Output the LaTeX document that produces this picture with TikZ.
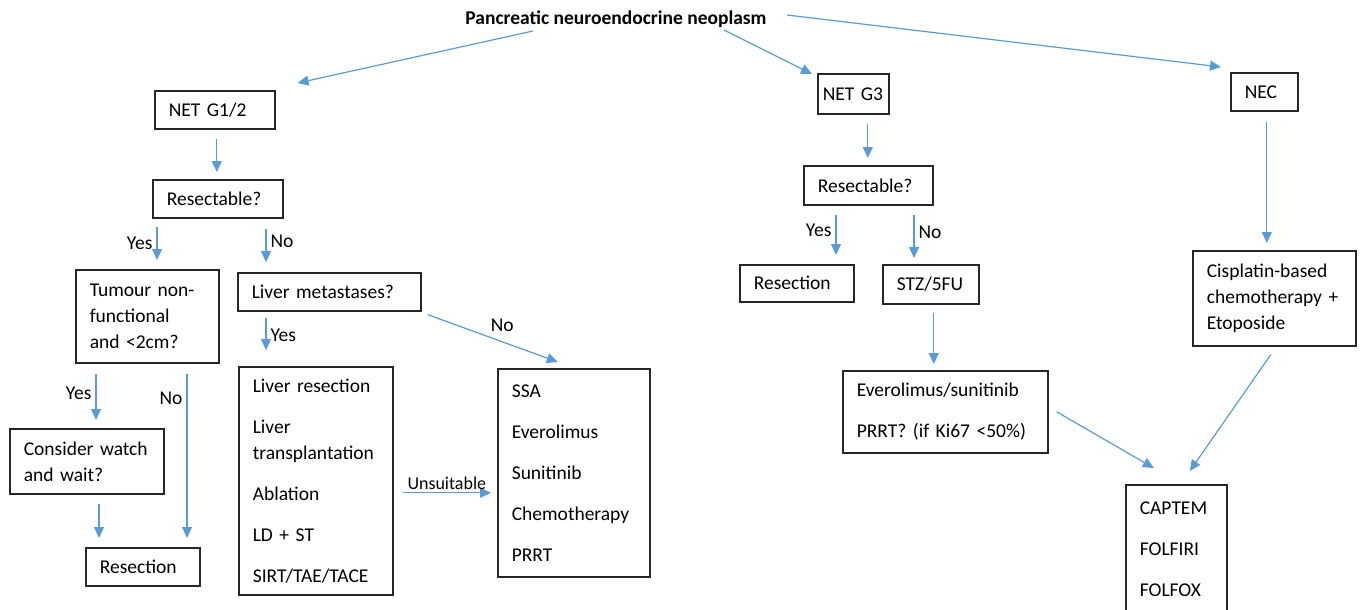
\documentclass[tikz,border=0pt]{standalone}
\usepackage{fontspec}
\setmainfont{Carlito}
\usetikzlibrary{arrows.meta, calc}
\definecolor{arrowblue}{RGB}{91,155,213}
\tikzset{
  box/.style 2 args={draw=black!85, line width=1.6pt, anchor=north west, align=left,
    inner xsep=14pt, inner ysep=0pt, text width=#1pt, minimum height=#2pt},
  arr/.style={draw=arrowblue, line width=1.2pt, -{Triangle[length=11pt,width=10pt]}},
  lbl/.style={inner sep=4pt, text=black},
}
\hyphenpenalty=10000
\exhyphenpenalty=10000
\begin{document}
\begin{tikzpicture}[x=1pt, y=-1pt, font=\fontsize{19.5}{26}\selectfont]
\useasboundingbox (0,0) rectangle (1360,610);
\clip (0,0) rectangle (1360,610);
%
\node[font=\fontsize{19.5}{26}\selectfont\bfseries, inner sep=0pt] (pnen) at (616,19) {Pancreatic neuroendocrine neoplasm};
% NET G1/2 branch
\node[box={92}{38}] (net12) at (154,90) {NET G1/2};
\node[box={102}{38}] (res1) at (152,179) {Resectable?};
\node[box={115}{93}] (tum) at (75,269) {Tumour non-\\functional\\and <2cm?};
\node[box={155}{38}] (livmet) at (237,272) {Liver metastases?};
\node[box={126}{65}] (wait) at (9,428) {Consider watch\\and wait?};
\node[box={86}{38}] (rsc1) at (85,547) {Resection};
\node[box={126}{228}] (livtx) at (238,366) {Liver resection\\[15pt] Liver\\transplantation\\[15pt] Ablation\\[15pt] LD + ST\\[15pt] SIRT/TAE/TACE};
\node[box={124}{208}] (sys) at (497,368) {SSA\\[15pt] Everolimus\\[15pt] Sunitinib\\[15pt] Chemotherapy\\[15pt] PRRT};
% NET G3 branch
\node[box={61}{40}, inner xsep=5pt] (net3) at (817,73) {NET~G3};
\node[box={101}{39}] (res3) at (803,165) {Resectable?};
\node[box={86}{37}] (rsc3) at (739,264) {Resection};
\node[box={68}{39}] (stz) at (882,264) {STZ/5FU};
\node[box={177}{82}] (evr) at (842,370) {Everolimus/sunitinib\\[15pt] PRRT? (if Ki67 <50\%)};
% NEC branch
\node[box={39}{38}] (nec) at (1230,72) {NEC};
\node[box={135}{95}] (cis) at (1192,250) {Cisplatin-based\\chemotherapy +\\Etoposide};
\node[box={73}{128}] (chemo) at (1125,484) {CAPTEM\\[15pt] FOLFIRI\\[15pt] FOLFOX};
%
\draw[arr] ($(pnen)+(-83,12)$) -- ($(net12.north east)+(22,-7)$);
\draw[arr] ($(pnen)+(108,11)$) -- ($(net3.north west)+(-5,1)$);
\draw[arr] ($(pnen)+(171,-4)$) -- ($(nec.north west)+(-9,-5)$);
\draw[arr] ($(net12.south)+(2,9)$) -- ($(net12.south |- res1.north)+(2,-7)$);
\draw[arr] ($(res1.south west)+(5,8)$) -- node[lbl, left] {Yes} ($(res1.south west |- tum.north)+(5,-9)$);
\draw[arr] ($(res1.south west)+(114,10)$) -- node[lbl, right, pos=0.37] {No} ($(res1.south west |- livmet.north)+(114,-10)$);
\draw[arr] ($(tum.south west)+(21,10)$) -- node[lbl, left, pos=0.42] {Yes} ($(tum.south west |- wait.north)+(21,-8)$);
\draw[arr] ($(tum.south west)+(112,10)$) -- node[lbl, left, pos=0.15] {No} ($(tum.south west |- rsc1.north)+(112,-9)$);
\draw[arr] ($(wait.south west)+(90,9)$) -- ($(wait.south west |- rsc1.north)+(90,-9)$);
\draw[arr] ($(livmet.south west)+(29,6)$) -- node[lbl, right, pos=0.55] {Yes} ($(livmet.south west |- livtx.north)+(29,-16)$);
\draw[arr] ($(livmet.south east)+(6,3)$) -- node[lbl, above right, pos=0.45] {No} ($(sys.north)+(-16,-6)$);
\draw[arr] ($(livtx.east)+(9,12)$) -- node[lbl, above, font=\fontsize{18}{22}\selectfont, inner sep=2.5pt] {Unsuitable} ($(livtx.east -| sys.west)+(-6,12)$);
%
\draw[arr] ($(net3.south)+(14.5,9)$) -- ($(net3.south |- res3.north)+(14.5,-7)$);
\draw[arr] ($(res3.south west)+(33,9)$) -- node[lbl, left, pos=0.4] {Yes} ($(res3.south west |- rsc3.north)+(33,-9)$);
\draw[arr] ($(res3.south west)+(111,9)$) -- node[lbl, right, pos=0.4] {No} ($(res3.south west |- stz.north)+(111,-6)$);
\draw[arr] ($(stz.south)+(3,8)$) -- ($(stz.south |- evr.north)+(3,-6)$);
\draw[arr] ($(nec.south)+(2.5,10)$) -- ($(nec.south |- cis.north)+(2.5,-7)$);
\draw[arr] ($(evr.east)+(8,0)$) -- ($(chemo.north)+(-22.5,-16)$);
\draw[arr] ($(cis.south)+(-3.5,8)$) -- ($(chemo.north)+(13.5,-13)$);
\end{tikzpicture}
\end{document}
